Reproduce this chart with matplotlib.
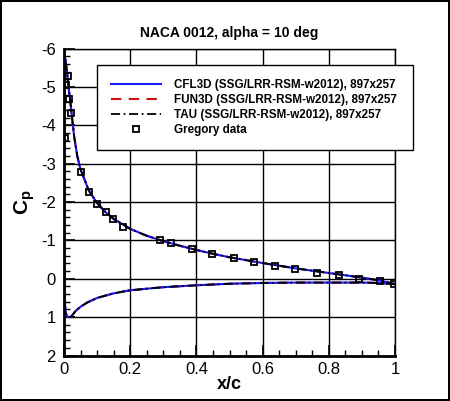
import matplotlib
matplotlib.use("Agg")
import matplotlib.pyplot as plt
from matplotlib.ticker import MultipleLocator

plt.rcParams['font.family'] = ['Liberation Sans', 'DejaVu Sans']
plt.rcParams['axes.unicode_minus'] = False

# Computed surface Cp (lower surface TE->LE, then upper LE->TE)
x_cfd = [1.0, 0.95, 0.9, 0.8, 0.7, 0.6, 0.5, 0.4, 0.3, 0.25, 0.2, 0.15, 0.1, 0.07,
         0.05, 0.035, 0.025, 0.019, 0.012, 0.007, 0.004, 0.002, 0.001, 0.0005, 0.0,
         0.0005, 0.001, 0.002, 0.004, 0.007, 0.01, 0.015, 0.02, 0.03, 0.04, 0.05,
         0.075, 0.1, 0.125, 0.15, 0.2, 0.25, 0.3, 0.35, 0.4, 0.45, 0.5, 0.6, 0.7,
         0.8, 0.9, 0.95, 1.0]
cp_cfd = [0.14, 0.11, 0.10, 0.10, 0.10, 0.11, 0.13, 0.17, 0.22, 0.26, 0.30, 0.38, 0.50, 0.62,
          0.73, 0.84, 0.95, 1.00, 0.99, 0.94, 0.82, 0.45, -0.4, -1.5, -2.6,
          -3.8, -4.8, -5.4, -5.72, -5.55, -5.3, -4.9, -4.55, -3.75, -3.2, -2.85,
          -2.3, -1.97, -1.74, -1.56, -1.3, -1.12, -0.98, -0.86, -0.75, -0.65, -0.56, -0.41, -0.27,
          -0.15, -0.03, 0.04, 0.14]

x_cfl3d, cp_cfl3d = x_cfd, cp_cfd
x_fun3d, cp_fun3d = x_cfd, cp_cfd
x_tau, cp_tau = x_cfd, cp_cfd

# Gregory experimental data
x_exp = [0.013, 0.005, 0.016, 0.021, 0.003, 0.051, 0.075, 0.10, 0.126, 0.149, 0.178,
         0.29, 0.323, 0.386, 0.448, 0.515, 0.575, 0.636, 0.699, 0.765, 0.832, 0.892,
         0.955, 0.998]
cp_exp = [-5.28, -5.06, -4.69, -4.33, -3.68, -2.77, -2.27, -1.95, -1.75, -1.56, -1.35,
          -1.01, -0.94, -0.77, -0.65, -0.54, -0.43, -0.33, -0.25, -0.14, -0.10, 0.01,
          0.07, 0.14]

labels = ["CFL3D (SSG/LRR-RSM-w2012), 897x257",
          "FUN3D (SSG/LRR-RSM-w2012), 897x257",
          "TAU (SSG/LRR-RSM-w2012), 897x257",
          "Gregory data"]

fig = plt.figure(figsize=(4.5, 4.01), dpi=100, linewidth=1.5, edgecolor='black')
ax = fig.add_axes([64/450, 1-355.5/401, 331/450, 307/401])

h2, = ax.plot(x_fun3d, cp_fun3d, color='#cc1111', lw=1.5, ls=(0, (5, 3.5)), label=labels[1])
h1, = ax.plot(x_cfl3d, cp_cfl3d, color='#1a1aff', lw=1.5, ls='-', label=labels[0])
h3, = ax.plot(x_tau, cp_tau, color='black', lw=1.3, ls=(0, (5, 2, 1, 2)), label=labels[2])
h4, = ax.plot(x_exp, cp_exp, ls='none', marker='s', ms=5, mfc='none', mec='black', mew=1.3,
              label=labels[3])

ax.set_xlim(0, 1)
ax.set_ylim(2, -6)
ax.xaxis.set_major_locator(MultipleLocator(0.2))
ax.xaxis.set_minor_locator(MultipleLocator(0.05))
ax.yaxis.set_major_locator(MultipleLocator(1))
ax.yaxis.set_minor_locator(MultipleLocator(0.2))
ax.set_xticks([0, 0.2, 0.4, 0.6, 0.8, 1.0])
ax.set_xticklabels(['0', '0.2', '0.4', '0.6', '0.8', '1'])
ax.grid(True, which='major', color='black', lw=1)
ax.tick_params(which='both', direction='in', top=False, right=False, labelsize=12)
ax.tick_params(which='major', length=8, width=1.2)
ax.tick_params(which='minor', length=4, width=1)
ax.tick_params(axis='x', pad=5)
ax.tick_params(axis='y', pad=6)
for s in ['left', 'bottom']:
    ax.spines[s].set_linewidth(2)
for s in ['top', 'right']:
    ax.spines[s].set_linewidth(1)

ax.set_xlabel('x/c', fontsize=13, fontweight='bold', labelpad=-1)
ax.set_ylabel(r'C$_\mathregular{p}$', fontsize=15, fontweight='bold', labelpad=3)
ax.set_title('NACA 0012, alpha = 10 deg', fontsize=10, fontweight='bold', pad=8)

leg = ax.legend([h1, h2, h3, h4], labels, loc='upper left',
                bbox_to_anchor=(0.0997, 0.676, 0.954, 0.27), mode='expand',
                frameon=True, fancybox=False, framealpha=1, edgecolor='black',
                prop={'size': 8.4, 'weight': 'bold'}, handlelength=4.3, handletextpad=1.1,
                labelspacing=0.25, borderpad=1.2, borderaxespad=0)
leg.get_frame().set_linewidth(1)
leg.set_zorder(5)

fig.savefig('out.png', dpi=100)
